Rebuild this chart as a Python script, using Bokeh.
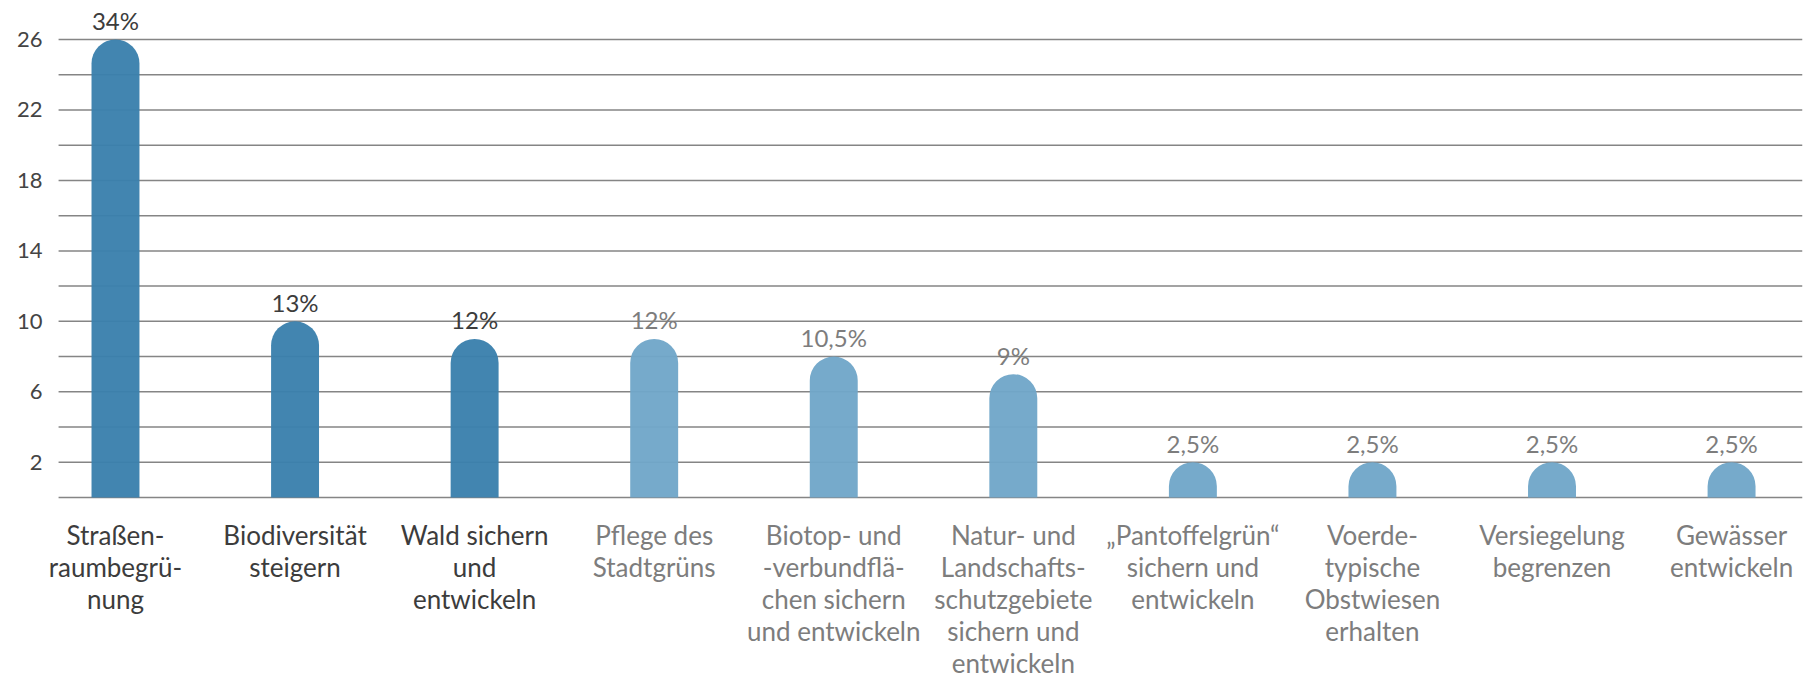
from bokeh.plotting import figure
from bokeh.models import ColumnDataSource, Range1d
from bokeh.core.properties import value
from bokeh.embed import file_html
from bokeh.resources import INLINE

# ---- data ----
categories = [
    "Straßen-\nraumbegrü-\nnung",
    "Biodiversität\nsteigern",
    "Wald sichern\nund\nentwickeln",
    "Pflege des\nStadtgrüns",
    "Biotop- und\n-verbundflä-\nchen sichern\nund entwickeln",
    "Natur- und\nLandschafts-\nschutzgebiete\nsichern und\nentwickeln",
    "„Pantoffelgrün“\nsichern und\nentwickeln",
    "Voerde-\ntypische\nObstwiesen\nerhalten",
    "Versiegelung\nbegrenzen",
    "Gewässer\nentwickeln",
]
counts = [26, 10, 9, 9, 8, 7, 2, 2, 2, 2]
shares = ["34%", "13%", "12%", "12%", "10,5%", "9%", "2,5%", "2,5%", "2,5%", "2,5%"]
y_tick_labels = [2, 6, 10, 14, 18, 22, 26]
grid_values = list(range(0, 27, 2))
n_highlight = 3

# ---- styles / layout ----
DARK_BAR = "#3a80ad"
LIGHT_BAR = "#70a7c9"
DARK_TEXT = "#3c3c3c"
LIGHT_TEXT = "#7d7d7d"
GRID_COLOR = "#858585"
FONT = "Lato"
X_START, X_END = -0.6404, 9.395      # frame spans the full width
GRID_LEFT = -0.317                   # where the horizontal rules begin
Y_START, Y_END = -10.332, 28.214

x = list(range(len(categories)))
bar_colors = [DARK_BAR if i < n_highlight else LIGHT_BAR for i in x]
text_colors = [DARK_TEXT if i < n_highlight else LIGHT_TEXT for i in x]

src = ColumnDataSource(dict(x=x, top=counts, cat=categories, share=shares,
                            bar_color=bar_colors, text_color=text_colors))

p = figure(width=1811, height=679, output_backend="svg", toolbar_location=None,
           tools="", x_range=Range1d(X_START, X_END), y_range=Range1d(Y_START, Y_END),
           x_axis_location=None, y_axis_location=None,
           min_border_left=0, min_border_right=9,
           min_border_top=0, min_border_bottom=0, outline_line_color=None,
           background_fill_color="white", border_fill_color="white")
p.grid.visible = False

# horizontal rules
p.segment(x0=GRID_LEFT, x1=X_END, y0=grid_values, y1=grid_values,
          line_color=GRID_COLOR, line_width=1.5)

# y tick labels
p.text(x=GRID_LEFT, y=y_tick_labels, text=[str(v) for v in y_tick_labels],
       x_offset=-16, text_align="right", text_baseline="middle",
       text_font=value(FONT), text_font_size="22px", text_color="#444444")

p.vbar(x="x", top="top", bottom=0, width=0.267, fill_color="bar_color",
       fill_alpha=0.96, line_color=None, border_radius=(24, 24, 0, 0), source=src)

p.text(x="x", y="top", text="share", text_align="center", text_baseline="middle",
       y_offset=-19, text_font=value(FONT), text_font_size="24px",
       text_color="text_color", source=src)

p.text(x="x", y=0, text="cat", text_align="center", text_baseline="top",
       y_offset=22, text_font=value(FONT), text_font_size="26px",
       text_line_height=1.0, text_color="text_color", source=src)

open("out.html", "w").write(file_html(p, INLINE))
